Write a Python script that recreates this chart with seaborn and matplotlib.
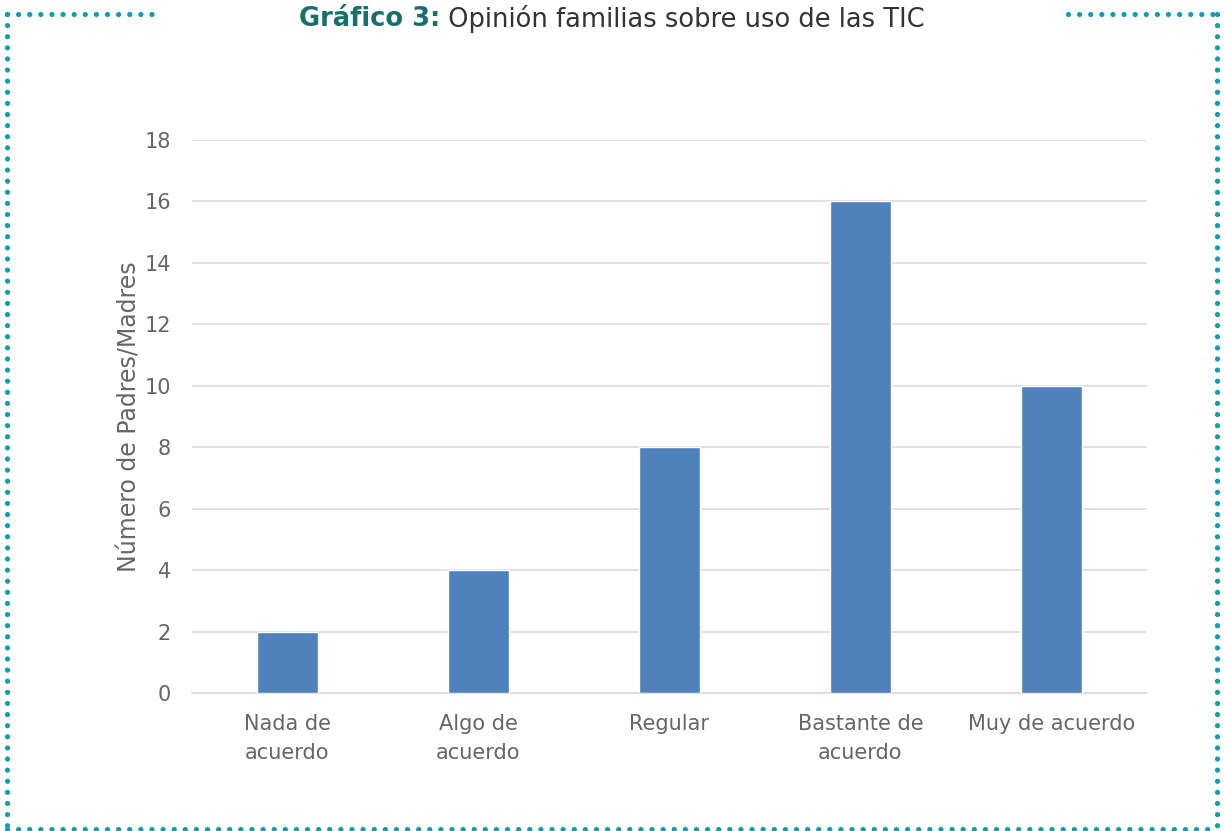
import matplotlib
matplotlib.use("Agg")
import matplotlib.pyplot as plt
import seaborn as sns
import pandas as pd
from matplotlib.lines import Line2D

# data
categories = ["Nada de\nacuerdo", "Algo de\nacuerdo", "Regular", "Bastante de\nacuerdo", "Muy de acuerdo"]
values = [2, 4, 8, 16, 10]
y_ticks = [0, 2, 4, 6, 8, 10, 12, 14, 16, 18]

df = pd.DataFrame({"opinion": categories, "n": values})

sns.set_style("white")
plt.rcParams["font.family"] = ["DejaVu Sans"]
plt.rcParams["lines.scale_dashes"] = False

grey = "#666666"
fig = plt.figure(figsize=(12.25, 8.31), dpi=100)
ax = fig.add_axes([0.1567, 0.166, 0.9363 - 0.1567, 0.8315 - 0.166])

sns.barplot(data=df, x="opinion", y="n", color="#4f81bd", saturation=1,
            width=0.315, ax=ax, zorder=3)

ax.set_ylim(0, 18)
ax.set_xlim(-0.5, 4.5)
ax.set_yticks(y_ticks)
ax.yaxis.grid(True, color="#d9d9d9", linewidth=1.1, zorder=0)
ax.set_axisbelow(True)
for s in ["top", "right", "left"]:
    ax.spines[s].set_visible(False)
ax.spines["bottom"].set_color("#d9d9d9")
ax.spines["bottom"].set_linewidth(1.1)
ax.tick_params(axis="both", length=0, labelsize=15, colors=grey)
ax.tick_params(axis="x", pad=15)
ax.tick_params(axis="y", pad=15)
for lab in ax.get_xticklabels():
    lab.set_linespacing(1.6)
ax.set_xlabel("")
ax.set_ylabel("Número de Padres/Madres", fontsize=17, color=grey, labelpad=2)

# title in two parts
t1 = fig.text(0, 0.977, "Gráfico 3:", fontsize=18.5, fontweight="bold", color="#17706e", va="center")
t2 = fig.text(0, 0.977, " Opinión familias sobre uso de las TIC", fontsize=18.5, color="#333333", va="center")
fig.canvas.draw()
r = fig.canvas.get_renderer()
w1 = t1.get_window_extent(r).width
w2 = t2.get_window_extent(r).width
x0 = (612 - (w1 + w2) / 2) / 1225
t1.set_x(x0)
t2.set_x(x0 + w1 / 1225)

# dotted frame
dot = dict(color="#0e9fb2", linewidth=3.8, linestyle=(0, (0.001, 8.0)),
           dash_capstyle="round", transform=fig.transFigure, clip_on=False)
W, H = 1225, 831
def seg(xs, ys):
    fig.add_artist(Line2D([x / W for x in xs], [1 - y / H for y in ys], **dot))
seg([7, 158], [14, 14])
seg([1068, 1217], [14, 14])
seg([7, 7], [14, 829])
seg([1217, 1217], [14, 829])
seg([7, 1217], [829, 829])

fig.savefig("out.png", dpi=100)
